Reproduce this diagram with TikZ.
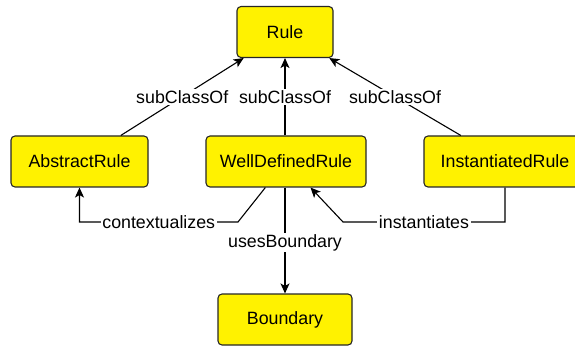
\documentclass[tikz,border=0pt]{standalone}
\usepackage{fontspec}
\setmainfont{Liberation Sans}
\usetikzlibrary{arrows.meta,positioning}

\begin{document}
\begin{tikzpicture}[x=1pt, y=-1pt, every node/.style={font=\fontsize{17.8}{20}\selectfont},
  cls/.style={draw=black!85, line width=1.1pt, rectangle, rounded corners=4pt, fill=yellow, minimum height=51pt, inner sep=0pt},
  rel/.style={fill=white, inner sep=1.5pt},
  link/.style={line width=1.1pt, -{Stealth[length=10pt,width=9pt,inset=2.5pt]}}]
\clip (0,0) rectangle (575,347);
% classes
\node[cls, minimum width=96pt] (rule) at (285,32) {Rule};
\node[cls, minimum width=137pt] (ar) at (79.5,161.5) {AbstractRule};
\node[cls, minimum width=160pt] (wdr) at (286,161.5) {WellDefinedRule};
\node[cls, minimum width=162pt] (ir) at (505,161.5) {InstantiatedRule};
\node[cls, minimum width=134pt] (bnd) at (285,319.5) {Boundary};
\coordinate (ctxbend) at (238,222);
\coordinate (instbend) at (343,222);
% subclass links
\draw[link] (ar) -- node[rel] {subClassOf} (rule);
\draw[link] (wdr.north -| rule) -- node[rel] {subClassOf} (rule);
\draw[link] (ir) -- node[rel] {subClassOf} (rule);
% properties
\draw[link] (wdr) -- (ctxbend) -- node[rel] {contextualizes} (ar |- ctxbend) -- (ar);
\draw[link] (ir) |- node[rel, pos=0.75] {instantiates} (instbend) -- (wdr);
\draw[link] (wdr.south -| bnd) -- node[rel, pos=0.52] {usesBoundary} (bnd);
\end{tikzpicture}
\end{document}
